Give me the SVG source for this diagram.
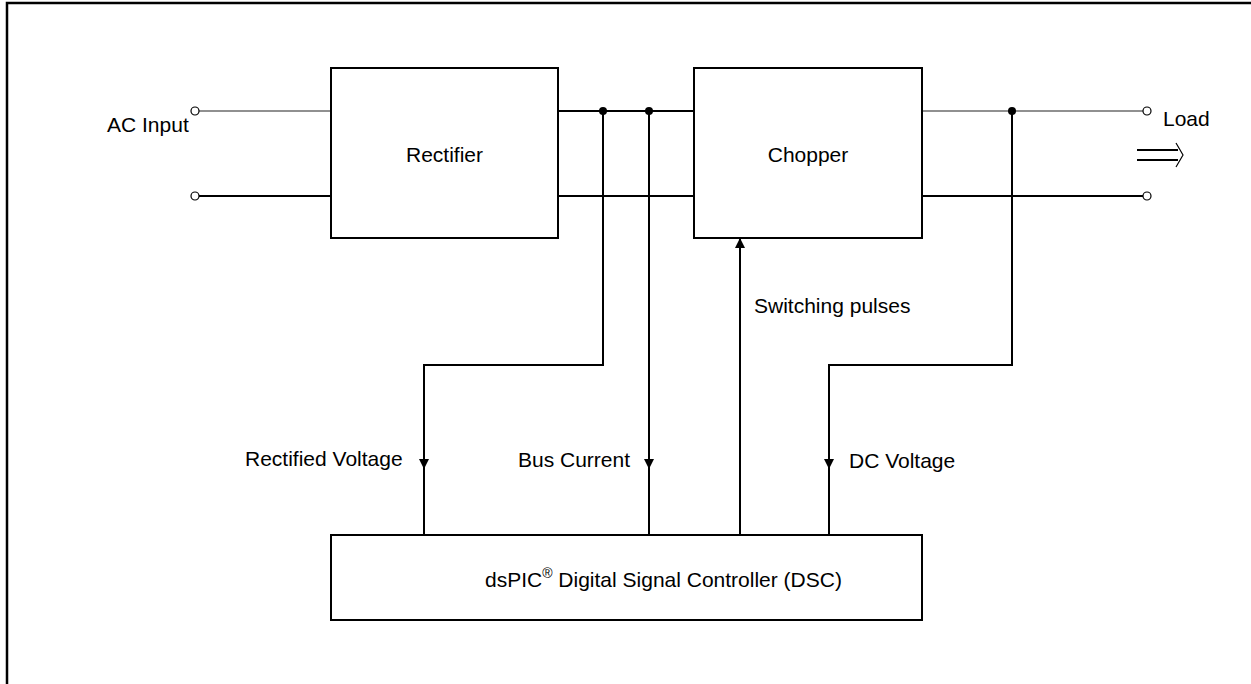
<svg xmlns="http://www.w3.org/2000/svg" width="1251" height="684" viewBox="0 0 1251 684">
<style>
text{font-family:"Liberation Sans",Arial,sans-serif;font-size:21px;fill:#000}
.box{fill:#fff;stroke:#000;stroke-width:2}
.w{fill:none;stroke:#000;stroke-width:2}
.thin{fill:none;stroke:#222;stroke-width:1.2}
.term{fill:#fff;stroke:#000;stroke-width:1.2}
.dot{fill:#000}
</style>
<defs>
<marker id="ah" viewBox="0 0 10 10" refX="10" refY="5" markerWidth="5" markerHeight="5" orient="auto" markerUnits="strokeWidth">
<path d="M0,0 L10,5 L0,10 z" fill="#000"/>
</marker>
</defs>
<rect width="1251" height="684" fill="#fff"/>
<g id="frame"><path d="M7,684 V3 H1251" fill="none" stroke="#000" stroke-width="2.5"/></g>

<g id="connectors">
<path class="thin" d="M199,111 H331"/>
<path class="w" d="M199,196 H331"/>
<path class="w" d="M558,111 H694"/>
<path class="w" d="M558,196 H694"/>
<path class="thin" d="M922,111 H1143"/>
<path class="w" d="M922,196 H1143"/>
<circle class="term" cx="195" cy="111" r="4"/>
<circle class="term" cx="195" cy="196" r="4"/>
<circle class="term" cx="1147" cy="111" r="4"/>
<circle class="term" cx="1147" cy="196" r="4"/>
<circle class="dot" cx="603" cy="111" r="4"/>
<circle class="dot" cx="649" cy="111" r="4"/>
<circle class="dot" cx="1012" cy="111" r="4"/>
<path class="w" d="M603,111 V365 H424 V469" marker-end="url(#ah)"/>
<path class="w" d="M424,465 V535"/>
<path class="w" d="M649,111 V469" marker-end="url(#ah)"/>
<path class="w" d="M649,465 V535"/>
<path class="w" d="M1012,111 V365 H829 V469" marker-end="url(#ah)"/>
<path class="w" d="M829,465 V535"/>
<path class="w" d="M740,535 V238" marker-end="url(#ah)"/>
<path class="w" d="M1137,150 H1178 M1137,160 H1178"/>
<path d="M1176,143 L1183,155 L1176,167" fill="none" stroke="#000" stroke-width="1.2"/>
</g>

<g id="rectifier">
<rect class="box" x="331" y="68" width="227" height="170"/>
<text x="444.5" y="162" text-anchor="middle">Rectifier</text>
</g>
<g id="chopper">
<rect class="box" x="694" y="68" width="228" height="170"/>
<text x="808" y="162" text-anchor="middle">Chopper</text>
</g>
<g id="dsc">
<rect class="box" x="331" y="535" width="591" height="85"/>
<text x="485" y="587">dsPIC<tspan font-size="14" dy="-9">®</tspan><tspan dy="9"> Digital Signal Controller (DSC)</tspan></text>
</g>

<g id="labels">
<text x="107" y="132">AC Input</text>
<text x="1163" y="126">Load</text>
<text x="754" y="313">Switching pulses</text>
<text x="245" y="466">Rectified Voltage</text>
<text x="518" y="467">Bus Current</text>
<text x="849" y="468">DC Voltage</text>
</g>
</svg>
